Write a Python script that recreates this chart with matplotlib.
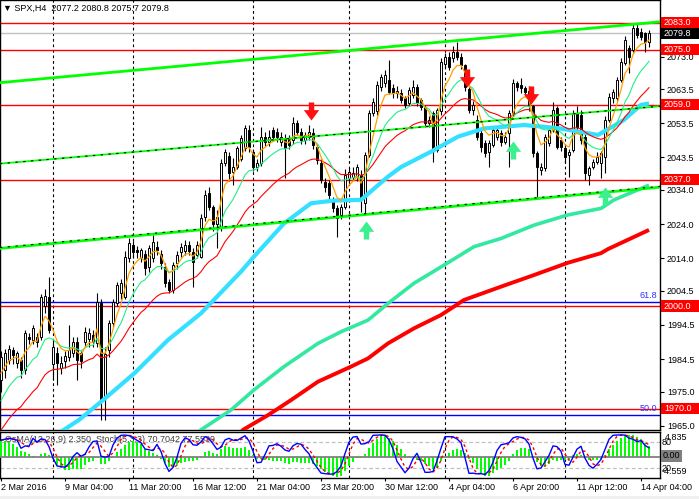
import numpy as np
import matplotlib
matplotlib.use("Agg")
import matplotlib.pyplot as plt
from matplotlib.path import Path
from matplotlib.patches import Rectangle
from matplotlib.transforms import blended_transform_factory

plt.rcParams['font.family'] = ['Liberation Sans', 'DejaVu Sans']

# ---------------- data ----------------
opens = [1978.4,1981.3,1984.2,1987.2,1983.3,1984.2,1981.3,1991.1,1990.0,1991.1,
         1991.0,2000.0,2002.8,1983.0,1986.2,1981.8,1984.0,1985.2,1986.2,1989.6,
         1986.2,1989.6,1990.5,1991.5,1989.1,2000.8,1973.0,1987.2,1995.0,2000.8,
         2003.7,2002.8,2014.0,2017.9,2016.4,2014.0,2015.4,2011.5,2014.0,2017.4,
         2015.4,2011.5,2007.2,2004.7,2012.5,2015.9,2016.0,2017.9,2015.9,2015.0,
         2014.5,2026.0,2033.0,2029.0,2024.0,2023.2,2041.8,2044.0,2039.3,2040.8,
         2043.2,2046.2,2051.5,2045.2,2040.8,2041.8,2049.6,2048.1,2051.5,2051.0,
         2048.1,2049.1,2049.1,2048.6,2053.5,2051.0,2048.6,2049.6,2050.6,2046.7,
         2041.8,2036.4,2035.9,2031.0,2028.6,2026.6,2029.1,2037.4,2037.9,2037.9,
         2038.4,2030.1,2044.2,2056.4,2057.0,2064.2,2065.2,2066.2,2063.7,2062.3,
         2062.3,2060.8,2059.5,2061.8,2064.2,2060.3,2058.4,2053.5,2056.4,2045.7,
         2057.0,2071.0,2073.0,2072.5,2074.5,2073.0,2070.6,2063.5,2057.4,2054.5,
         2050.6,2047.6,2045.2,2047.2,2049.6,2050.6,2048.1,2050.6,2056.4,2065.2,
         2064.7,2063.7,2063.0,2058.5,2044.7,2039.8,2040.3,2047.6,2051.5,2057.9,
         2048.6,2046.2,2044.2,2045.7,2056.4,2056.0,2049.6,2038.4,2040.8,2042.3,
         2042.0,2043.7,2054.5,2060.8,2060.8,2066.2,2071.1,2075.4,2075.0,2081.3,
         2080.3,2079.8,2077.2]
highs = [1987.0,1987.5,1988.5,1988.0,1987.0,1985.0,1993.0,1992.0,1994.5,1992.0,
         2003.5,2005.0,2008.6,1990.0,1988.0,1985.5,1987.0,1994.5,1991.0,1991.0,
         1987.0,1994.0,1993.5,1993.0,2003.7,2002.0,1988.0,1996.0,2002.0,2007.0,
         2008.0,2016.0,2020.0,2019.0,2017.5,2017.0,2016.5,2018.0,2020.8,2019.0,
         2016.5,2012.5,2008.0,2013.0,2016.0,2018.5,2019.5,2019.0,2017.0,2019.0,
         2027.0,2034.0,2035.0,2029.5,2028.0,2043.0,2046.0,2045.0,2043.3,2047.0,
         2050.0,2053.0,2053.0,2046.0,2043.0,2052.5,2051.0,2051.5,2052.5,2052.0,
         2051.0,2050.5,2050.0,2055.4,2054.5,2052.0,2051.0,2053.0,2052.0,2047.5,
         2043.0,2037.5,2036.8,2032.0,2029.5,2030.0,2040.0,2040.5,2040.8,2041.5,
         2039.8,2045.0,2057.5,2061.0,2066.0,2068.0,2069.1,2072.0,2065.0,2064.5,
         2063.5,2061.5,2064.0,2066.2,2065.0,2061.0,2059.0,2055.5,2057.0,2058.0,
         2072.5,2074.0,2074.5,2076.0,2077.4,2074.0,2071.0,2064.0,2060.0,2056.0,
         2051.5,2048.5,2048.5,2052.5,2052.5,2051.5,2051.0,2057.5,2066.5,2066.0,
         2066.7,2064.5,2064.5,2059.0,2045.5,2042.0,2050.5,2052.5,2059.6,2058.5,
         2049.5,2047.0,2046.0,2057.4,2058.5,2057.5,2050.5,2041.0,2043.0,2045.2,
         2045.5,2055.5,2062.3,2063.5,2067.0,2072.5,2079.0,2076.5,2082.8,2082.5,
         2081.3,2080.3,2080.8]
lows = [1975.0,1979.0,1983.0,1983.0,1982.0,1979.0,1980.0,1989.0,1989.0,1988.0,
        1990.0,1998.0,1992.0,1978.4,1976.9,1980.0,1982.0,1984.0,1985.0,1978.4,
        1982.0,1988.0,1988.0,1988.0,1988.0,1966.7,1966.7,1985.0,1994.0,2000.0,
        2002.0,2002.0,2013.0,2014.0,2014.0,2013.0,2009.0,2010.0,2013.0,2015.0,
        2011.0,2005.5,2003.7,2003.7,2011.0,2014.5,2015.0,2015.0,2005.7,2014.0,
        2014.0,2025.0,2028.0,2022.0,2017.0,2022.0,2041.0,2036.5,2035.4,2040.0,
        2042.5,2045.5,2045.0,2039.5,2039.5,2041.0,2047.0,2047.0,2048.5,2048.0,
        2047.0,2037.4,2046.0,2047.5,2050.0,2047.5,2047.5,2048.5,2046.0,2041.5,
        2036.0,2033.5,2031.0,2027.5,2020.3,2025.5,2028.5,2036.0,2037.0,2036.5,
        2027.6,2027.2,2043.5,2055.5,2056.0,2063.0,2064.0,2062.0,2061.0,2061.0,
        2059.5,2058.0,2058.5,2061.0,2058.5,2057.5,2052.5,2052.5,2042.3,2045.0,
        2056.0,2070.0,2069.0,2071.5,2072.0,2069.5,2063.0,2056.5,2056.0,2048.5,
        2045.0,2043.5,2040.8,2046.5,2048.5,2047.0,2047.5,2040.8,2055.5,2063.0,
        2062.5,2061.5,2057.0,2043.5,2032.0,2038.5,2039.5,2047.0,2051.0,2046.0,
        2045.5,2042.0,2037.9,2045.0,2051.0,2047.5,2036.9,2035.4,2040.0,2041.5,
        2037.4,2039.0,2054.0,2059.5,2060.0,2065.5,2070.5,2068.1,2074.5,2078.5,
        2078.0,2074.5,2075.7]
closes = [1985.2,1986.2,1987.6,1985.7,1986.2,1981.3,1992.0,1990.3,1993.5,1989.6,
          2002.8,2003.0,1993.0,1988.0,1983.3,1983.3,1985.5,1987.2,1989.6,1984.2,
          1983.8,1992.5,1992.0,1989.5,2001.3,1972.0,1986.0,1995.0,2001.3,2006.2,
          2006.7,2014.5,2018.4,2015.9,2015.9,2016.4,2011.1,2017.0,2018.9,2016.4,
          2012.5,2006.7,2004.7,2012.0,2015.0,2017.4,2017.9,2016.0,2013.0,2017.9,
          2025.7,2032.5,2029.1,2024.0,2026.0,2041.8,2045.2,2039.0,2040.8,2046.2,
          2049.1,2052.0,2046.5,2040.8,2041.8,2049.6,2048.1,2049.6,2049.6,2049.6,
          2049.6,2046.2,2047.2,2053.5,2051.0,2048.6,2050.1,2051.1,2047.2,2042.8,
          2036.9,2035.0,2032.5,2028.6,2025.7,2029.1,2038.4,2039.3,2038.9,2040.8,
          2032.0,2044.2,2056.4,2059.8,2064.7,2067.1,2067.6,2062.8,2062.3,2063.0,
          2060.3,2058.9,2063.2,2064.2,2059.4,2058.4,2053.5,2054.5,2045.7,2057.4,
          2071.5,2073.0,2070.1,2074.5,2073.0,2070.6,2064.2,2057.4,2058.9,2049.6,
          2046.7,2044.7,2047.6,2051.5,2051.5,2048.1,2049.6,2056.4,2065.2,2064.2,
          2063.7,2062.8,2058.5,2044.7,2040.8,2040.8,2049.6,2051.5,2057.4,2046.7,
          2046.7,2043.7,2045.2,2056.4,2052.5,2048.6,2038.9,2040.3,2042.3,2043.7,
          2044.7,2054.5,2061.3,2062.8,2066.2,2071.5,2077.9,2073.0,2081.3,2079.4,
          2078.9,2077.4,2079.8]

# short EMAs (period, value before the first visible bar)
ema_periods = [5, 12, 26]
ema_seeds = [1978.0, 1970.0, 1962.0]
macd_prev = 5.0  # OsMA signal history before the first bar

# long moving averages (bar, price)
ma50_bars = [14, 19.5, 25, 33.3, 41.75, 50, 60, 63.25, 70.75, 77.5, 83.25, 90,
             96.75, 100, 107.5, 114.25, 120.75, 130.75, 139.25, 149.25, 155.75, 160, 162]
ma50_vals = [1962.5, 1966.7, 1972.0, 1980.3, 1990.1, 1997.9, 2010.1, 2014.5, 2024.2,
             2030.1, 2030.9, 2031.1, 2037.9, 2040.7, 2045.2, 2049.6, 2052.0, 2053.0,
             2052.1, 2050.1, 2054.5, 2058.9, 2059.3]
ma144_bars = [47, 50, 57.5, 63.25, 70.75, 79.25, 85, 91.75, 96.75, 103.25, 110.75,
              118.25, 125, 133.25, 141.75, 150, 153.25, 162]
ma144_vals = [1961.0, 1963.8, 1969.6, 1975.5, 1982.3, 1989.1, 1992.5, 1995.9, 2000.8,
              2006.7, 2012.0, 2017.4, 2019.8, 2023.7, 2026.7, 2028.6, 2031.1, 2035.4]
ma200_bars = [58, 60.5, 66.75, 72.5, 79.25, 87.5, 91.75, 96.75, 103.25, 110, 115.75,
              125, 133.25, 141.75, 150, 151.75, 162]
ma200_vals = [1960.5, 1963.8, 1968.1, 1972.5, 1977.9, 1982.3, 1984.7, 1989.1, 1993.5,
              1997.4, 2001.8, 2005.7, 2009.1, 2012.7, 2015.5, 2016.7, 2022.3]

# channel lines: (bar, price) at both ends
upper_line = [(-0.25, 2065.4), (164.75, 2083.2)]
middle_line = [(-0.25, 2041.7), (164.75, 2058.5)]
lower_line = [(-0.25, 2016.9), (164.75, 2034.8)]

# horizontal levels
levels = [2083.0, 2075.0, 2059.0, 2037.0, 2000.0, 1970.0]
last_price = 2079.8
fibo_levels = [2001.1, 1968.0]
fibo_labels = ["61.8", "50.0"]

# signal arrows (bar, price)
down_bars = [77.5, 116.6, 132.6]
down_prices = [2057.1, 2066.8, 2061.9]
up_bars = [91.25, 128.1, 150.9]
up_prices = [2022.3, 2045.8, 2032.2]

price_ticks = [2073.0, 2063.5, 2053.5, 2043.5, 2034.0, 2024.0, 2014.0,
               2004.5, 1994.5, 1984.5, 1975.0, 1965.0]
date_bars = [0, 16, 32, 48, 64, 80, 96, 112, 128, 144, 160]
date_labels = ["2 Mar 2016", "9 Mar 04:00", "11 Mar 20:00", "16 Mar 12:00",
               "21 Mar 04:00", "23 Mar 20:00", "30 Mar 12:00", "4 Apr 04:00",
               "6 Apr 20:00", "11 Apr 12:00", "14 Apr 04:00"]
separator_bars = [13, 33, 63, 87, 111, 141]

# ---------------- helpers ----------------
o = np.array(opens); h = np.array(highs); l = np.array(lows); c = np.array(closes)
n = len(c)
idx = np.arange(n)


def ema(vals, period, seed):
    a = 2.0 / (period + 1)
    out = []
    e = seed
    for v in vals:
        e = e + a * (v - e)
        out.append(e)
    return np.array(out)

emas = [ema(c, p, s) for p, s in zip(ema_periods, ema_seeds)]

macd = emas[1] - emas[2]
padded = np.concatenate([np.full(8, macd_prev), macd])
signal = np.array([padded[i:i + 9].mean() for i in range(n)])
osma = macd - signal

# stochastic (5,3,3)
kp, slow, dp = 5, 3, 3
ll = np.array([l[max(0, i - kp + 1):i + 1].min() for i in range(n)])
hh = np.array([h[max(0, i - kp + 1):i + 1].max() for i in range(n)])
num = c - ll
den = hh - ll
stk = np.array([num[max(0, i - slow + 1):i + 1].sum() / max(den[max(0, i - slow + 1):i + 1].sum(), 1e-9) * 100
                for i in range(n)])
std = np.array([stk[max(0, i - dp + 1):i + 1].mean() for i in range(n)])

# ---------------- figure ----------------
W, H = 699, 499
fig = plt.figure(figsize=(W / 100, H / 100), dpi=100)
ax = fig.add_axes([0, 1 - 430 / H, 660 / W, 430 / H])
ax2 = fig.add_axes([0, 1 - 478 / H, 660 / W, 46 / H])
fig.patches.append(Rectangle((0, 0), 1, 3 / H, transform=fig.transFigure,
                             fc='#f0f0f0', ec='none'))

xlim = (-0.25, 164.75)
for a in (ax, ax2):
    a.set_xlim(*xlim)
    for s in a.spines.values():
        s.set_color('black'); s.set_linewidth(1.0)
    for xb in separator_bars:
        a.axvline(xb, color='black', lw=0.8, ls=(0, (2.5, 2.5)), zorder=1)

ax.set_ylim(1963.75, 2089.59)

# horizontal levels
for lv in levels:
    ax.axhline(lv, color='#ff0000', lw=1.0, zorder=2)
ax.axhline(last_price, color='#c0c0c0', lw=1.0, zorder=2)
for lv, lab in zip(fibo_levels, fibo_labels):
    ax.axhline(lv, color='#0000ff', lw=1.0, zorder=2)
    ax.text(1 - 3 / 660, lv + 0.6, lab, transform=blended_transform_factory(ax.transAxes, ax.transData),
            ha='right', va='bottom', color='#3030ff', fontsize=6.5, zorder=3)

# candles
ax.vlines(idx, l, h, color='black', lw=0.8, zorder=3)
up = c >= o
body_b = np.minimum(o, c)
body_h = np.maximum(np.abs(c - o), 0.2)
ax.bar(idx, body_h, bottom=body_b, width=0.72,
       color=np.where(up, 'white', 'black'), edgecolor='black', lw=0.7, zorder=4)

# long MAs
ax.plot(ma200_bars, ma200_vals, color='#ff0000', lw=2.8, zorder=5, solid_capstyle='butt')
ax.plot(ma144_bars, ma144_vals, color='#33e8a0', lw=2.6, zorder=5, solid_capstyle='butt')
ax.plot(ma50_bars, ma50_vals, color='#33e0ff', lw=3.0, zorder=5, solid_capstyle='butt')

# short EMAs
ax.plot(idx, emas[2], color='#ff0000', lw=0.8, zorder=6)
ax.plot(idx, emas[1], color='#22ee88', lw=0.8, zorder=6)
ax.plot(idx, emas[0], color='#ffa000', lw=0.9, zorder=6)

# channel lines
(x0, y0), (x1, y1) = upper_line
ax.plot([x0, x1], [y0, y1], color='#00ff00', lw=2.0, zorder=7)
(x0, y0), (x1, y1) = lower_line
ax.plot([x0, x1], [y0, y1], color='#00ff00', lw=2.0, zorder=7)
ax.plot([x0, x1], [y0 + 0.25, y1 + 0.25], color='black', lw=0.8, ls=(0, (2, 5)), zorder=7)
(x0, y0), (x1, y1) = middle_line
ax.plot([x0, x1], [y0, y1], color='#00ff00', lw=1.3, zorder=7)
ax.plot([x0, x1], [y0, y1], color='black', lw=0.8, ls=(0, (2, 5)), zorder=7)

# arrows
down_path = Path([(-0.3, 1), (0.3, 1), (0.3, 0.15), (0.85, 0.15), (0, -1),
                  (-0.85, 0.15), (-0.3, 0.15), (-0.3, 1)], closed=True)
up_path = Path([(x, -y) for x, y in down_path.vertices], closed=True)
ax.plot(down_bars, down_prices, ls='none', marker=down_path, markersize=13,
        color='#ff1010', markeredgewidth=0, zorder=8)
ax.plot(up_bars, up_prices, ls='none', marker=up_path, markersize=13,
        color='#3cf090', markeredgewidth=0, zorder=8)

# price axis
ax.yaxis.tick_right()
ax.set_yticks(price_ticks)
ax.set_yticklabels([f"{t:.1f}" for t in price_ticks])
ax.tick_params(axis='y', length=3, width=0.8, pad=2, labelsize=6.5, colors='black')
ax.set_xticks([])

bt = blended_transform_factory(ax.transAxes, ax.transData)
box_levels = levels + [last_price]
box_colors = ['#ff0000'] * len(levels) + ['#000000']
for lv, col in zip(box_levels, box_colors):
    ax.add_patch(Rectangle((1.0 + 1 / 660, lv - 1.65), 39 / 660, 3.3, transform=bt,
                           fc=col, ec='none', clip_on=False, zorder=10))
    ax.text(1.0 + 4 / 660, lv, f"{lv:.1f}", transform=bt, ha='left', va='center',
            color='white', fontsize=6.5, zorder=11, clip_on=False)

fig.text(3 / W, 1 - 8 / H, "\u25bc SPX,H4  2077.2 2080.8 2075.7 2079.8",
         fontsize=6.5, va='center', ha='left', color='black')

# ---------------- indicator panel ----------------
ax2.set_ylim(-2.3, 103.9)
ax3 = ax2.twinx()
ax3.set_ylim(-4.47, 5.19)
ax3.set_xlim(*xlim)
ax3.bar(idx, osma, width=0.72, color='#00ff00', zorder=2)
ax3.axhline(0, color='#808080', lw=1.3, zorder=3)
ax3.set_yticks([])
ax2.set_yticks([])
for s in ax3.spines.values():
    s.set_visible(False)
ax2.axhline(80, color='#c0c0c0', lw=0.9, ls=(0, (3, 2)), zorder=1)
ax2.axhline(20, color='#c0c0c0', lw=0.9, ls=(0, (3, 2)), zorder=1)
ax3.plot(idx, (stk - (-2.3)) / 106.2 * 9.66 - 4.47, color='#0000ff', lw=1.0, zorder=5)
ax3.plot(idx, (std - (-2.3)) / 106.2 * 9.66 - 4.47, color='#ff0000', lw=1.0,
         ls=(0, (2, 2)), zorder=4)
ax3.text(5 / 660, 0.83, "OsMA(12,26,9) 2.350  Stoch(5,3,3) 70.7042 77.5539",
         transform=ax3.transAxes, fontsize=6.5, color='#404040', va='center', zorder=1)

ax2.set_xticks(date_bars)
ax2.set_xticklabels(date_labels, ha='left')
ax2.tick_params(axis='x', length=2, width=0.8, pad=1.5, labelsize=6.5, colors='black')

bt2 = blended_transform_factory(ax2.transAxes, ax2.transData)
ax2.text(1 + 5 / 660, 92, "4.835", transform=bt2, fontsize=6.5, va='center', ha='left', clip_on=False)
ax2.text(1 + 2 / 660, 80, "80", transform=bt2, fontsize=6.5, va='center', ha='left', clip_on=False)
ax2.text(1 + 2 / 660, 20, "20", transform=bt2, fontsize=6.5, va='center', ha='left', clip_on=False)
ax2.text(1 + 2 / 660, 13, "-4.559", transform=bt2, fontsize=6.5, va='center', ha='left', clip_on=False)
ax2.add_patch(Rectangle((1 + 1 / 660, 49.2 - 14), 21 / 660, 28, transform=bt2,
                        fc='#808080', ec='none', clip_on=False, zorder=10))
ax2.text(1 + 3 / 660, 49.2, "0.00", transform=bt2, fontsize=6.5, va='center', ha='left',
         color='black', clip_on=False, zorder=11)

fig.savefig("out.png", dpi=100)
